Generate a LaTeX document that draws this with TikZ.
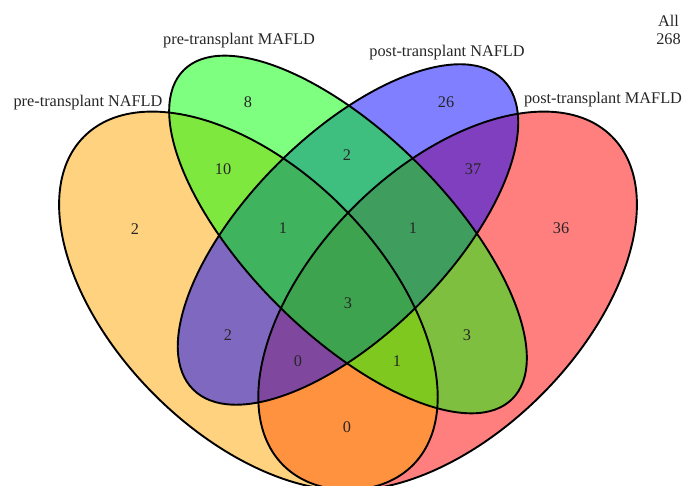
\documentclass[tikz,border=0pt]{standalone}
\usepackage{fontspec}
\setmainfont{Liberation Serif}
\definecolor{vorange}{RGB}{255,165,0}
\definecolor{vred}{RGB}{255,0,0}
\definecolor{vgreen}{RGB}{0,255,0}
\definecolor{vblue}{RGB}{0,0,255}
\begin{document}
\begin{tikzpicture}[x=1pt,y=1pt,
  lbl/.style={font=\fontsize{16.3}{18}\selectfont, text=black!85, inner sep=0pt},
  setfill/.style={fill=#1, fill opacity=0.5, draw=none},
  border/.style={draw=black, line width=1.9pt}]
\useasboundingbox (0,0) rectangle (684,486);
\clip (0,0) rectangle (684,486);
% set shapes: outer pair (NAFLD pre / MAFLD post), inner pair (MAFLD pre / NAFLD post)
\def\shapeA{[shift={(248.4,185.1)}, rotate=-45] (0,0) ellipse [x radius=232.4, y radius=132.8]}
\def\shapeB{[shift={(348,251.5)}, rotate=-45] (0,0) ellipse [x radius=232.4, y radius=99.6]}
\def\shapeC{[shift={(348,251.5)}, rotate=45] (0,0) ellipse [x radius=219.1, y radius=99.6]}
\def\shapeD{[shift={(447.6,185.1)}, rotate=45] (0,0) ellipse [x radius=232.4, y radius=132.8]}
% translucent fills
\path[setfill=vred] \shapeD;
\path[setfill=vorange] \shapeA;
\path[setfill=vblue] \shapeC;
\path[setfill=vgreen] \shapeB;
% outlines
\path[border] \shapeD;
\path[border] \shapeA;
\path[border] \shapeC;
\path[border] \shapeB;
% set names
\node[lbl] (tA) at (88,383) {pre-transplant NAFLD};
\node[lbl] (tB) at (239,445) {pre-transplant MAFLD};
\node[lbl] (tC) at (447,433) {post-transplant NAFLD};
\node[lbl] (tD) at (603,386) {post-transplant MAFLD};
\node[lbl, align=center] (tAll) at (668.5,456) {All\\268};
% region counts
\node[lbl] (n8) at (248,384) {8};
\node[lbl] (n26) at (446,384) {26};
\node[lbl] (n10) at (223,317) {10};
\node[lbl] (n2a) at (135,257) {2};
\node[lbl] (n2b) at (347,331) {2};
\node[lbl] (n37) at (473,317) {37};
\node[lbl] (n36) at (561,258) {36};
\node[lbl] (n1a) at (283,258) {1};
\node[lbl] (n1b) at (413,258) {1};
\node[lbl] (n3a) at (348,183) {3};
\node[lbl] (n2c) at (228,151) {2};
\node[lbl] (n0a) at (298,125) {0};
\node[lbl] (n1c) at (397,125) {1};
\node[lbl] (n3b) at (467,151) {3};
\node[lbl] (n0b) at (347,59) {0};
\end{tikzpicture}
\end{document}
